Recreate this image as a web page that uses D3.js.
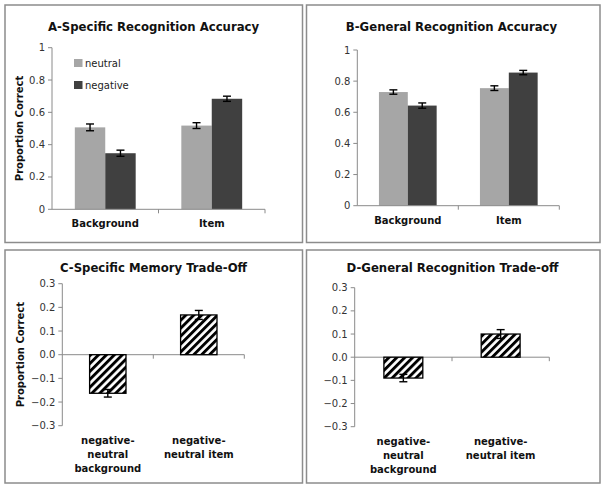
<!DOCTYPE html>
<html>
<head>
<meta charset="utf-8">
<script src="https://cdn.jsdelivr.net/npm/d3@7"></script>
<style>
  body { margin: 0; background: #fff; }
  svg { display: block; font-family: "DejaVu Sans", Verdana, sans-serif; }
</style>
</head>
<body>
<div id="chart"></div>
<script>
// Data
const groups = ["Background", "Item"];
const series = ["neutral", "negative"];

const specNeutral = [0.507, 0.518];
const specNegative = [0.347, 0.684];
const specNeutralErr = [0.021, 0.018];
const specNegativeErr = [0.019, 0.016];

const genNeutral = [0.730, 0.755];
const genNegative = [0.643, 0.855];
const genNeutralErr = [0.014, 0.015];
const genNegativeErr = [0.017, 0.014];

const diffLabels = [["negative-", "neutral", "background"], ["negative-", "neutral item"]];
const specDiff = [-0.163, 0.168];
const specDiffErr = [0.016, 0.019];
const genDiff = [-0.090, 0.100];
const genDiffErr = [0.016, 0.019];

const accTicks = [0, 0.2, 0.4, 0.6, 0.8, 1];
const diffTicks = [-0.3, -0.2, -0.1, 0, 0.1, 0.2, 0.3];

const colors = { neutral: "#a6a6a6", negative: "#404040" };
const axisColor = "#8a8a8a";

const svg = d3.select("#chart")
  .append("svg")
  .attr("width", 604)
  .attr("height", 488);

// hatch for the difference bars
svg.append("defs").append("pattern")
  .attr("id", "hatch")
  .attr("patternUnits", "userSpaceOnUse")
  .attr("width", 5.6)
  .attr("height", 5.6)
  .attr("patternTransform", "rotate(45)")
  .call(p => {
    p.append("rect").attr("width", 5.6).attr("height", 5.6).attr("fill", "#fff");
    p.append("rect").attr("width", 2.9).attr("height", 5.6).attr("fill", "#000");
  });

// panel frames
const frames = [[5, 5, 302.5, 242.5], [306.5, 5, 600, 242.5], [5, 250, 302.5, 483], [306.5, 250, 600, 483]];
svg.selectAll("rect.frame")
  .data(frames)
  .enter().append("rect")
  .attr("class", "frame")
  .attr("x", d => d[0])
  .attr("y", d => d[1])
  .attr("width", d => d[2] - d[0])
  .attr("height", d => d[3] - d[1])
  .attr("fill", "none")
  .attr("stroke", "#8c8c8c")
  .attr("stroke-width", 1.5);

function yAxis(g, y, x0, fmt, ticks) {
  g.append("line")
    .attr("x1", x0).attr("x2", x0)
    .attr("y1", y(ticks[0])).attr("y2", y(ticks[ticks.length - 1]))
    .attr("stroke", axisColor);
  g.selectAll("line.tick")
    .data(ticks)
    .enter().append("line")
    .attr("class", "tick")
    .attr("x1", x0 - 4).attr("x2", x0)
    .attr("y1", d => y(d)).attr("y2", d => y(d))
    .attr("stroke", axisColor);
  g.selectAll("text.tick")
    .data(ticks)
    .enter().append("text")
    .attr("class", "tick")
    .attr("x", x0 - 7)
    .attr("y", d => y(d) + 3.5)
    .attr("text-anchor", "end")
    .style("font-size", "10px")
    .attr("fill", "#333")
    .text(fmt);
}

function xBaseline(g, x, yPos) {
  const [a, b] = x.range();
  g.append("line")
    .attr("x1", a).attr("x2", b)
    .attr("y1", yPos).attr("y2", yPos)
    .attr("stroke", axisColor);
  const edges = x.domain().map(d => x(d)).concat([b]).slice(1);
  g.selectAll("line.xtick")
    .data(edges)
    .enter().append("line")
    .attr("class", "xtick")
    .attr("x1", d => d).attr("x2", d => d)
    .attr("y1", yPos).attr("y2", yPos + 4)
    .attr("stroke", axisColor);
}

function title(g, x, y, txt) {
  g.append("text")
    .attr("x", x).attr("y", y)
    .attr("text-anchor", "middle")
    .style("font-size", "11.7px")
    .style("font-weight", "bold")
    .attr("fill", "#111")
    .text(txt);
}

function yTitle(g, x, y, txt) {
  g.append("text")
    .attr("transform", "translate(" + x + "," + y + ") rotate(-90)")
    .attr("text-anchor", "middle")
    .style("font-size", "10px")
    .style("font-weight", "bold")
    .attr("fill", "#111")
    .text(txt);
}

function errorBars(g, data, yScale) {
  const eb = g.selectAll("g.err")
    .data(data)
    .enter().append("g")
    .attr("class", "err")
    .attr("stroke", "#000")
    .attr("stroke-width", 1.4);
  eb.append("line")
    .attr("x1", d => d.cx).attr("x2", d => d.cx)
    .attr("y1", d => yScale(d.v - d.e)).attr("y2", d => yScale(d.v + d.e));
  eb.append("line")
    .attr("x1", d => d.cx - 4).attr("x2", d => d.cx + 4)
    .attr("y1", d => yScale(d.v - d.e)).attr("y2", d => yScale(d.v - d.e));
  eb.append("line")
    .attr("x1", d => d.cx - 4).attr("x2", d => d.cx + 4)
    .attr("y1", d => yScale(d.v + d.e)).attr("y2", d => yScale(d.v + d.e));
}

// Panels A and B: grouped bars
function accuracyPanel(opt) {
  const g = svg.append("g");
  const x = d3.scaleBand().domain(groups).range(opt.xr).padding(0);
  const y = d3.scaleLinear().domain([0, 1]).range(opt.yr);
  const bw = x.bandwidth() / 3.5;
  const xs = d3.scaleBand().domain(series).range([0, 2 * bw]);

  const vals = { neutral: opt.neutral, negative: opt.negative };
  const errs = { neutral: opt.neutralErr, negative: opt.negativeErr };
  const rows = [];
  groups.forEach((grp, i) => {
    series.forEach(s => {
      const x0 = x(grp) + (x.bandwidth() - 2 * bw) / 2 + xs(s);
      rows.push({ s: s, x: x0, cx: x0 + bw / 2, v: vals[s][i], e: errs[s][i] });
    });
  });

  g.selectAll("rect.bar")
    .data(rows)
    .enter().append("rect")
    .attr("class", "bar")
    .attr("x", d => d.x)
    .attr("width", bw)
    .attr("y", d => y(d.v))
    .attr("height", d => y(0) - y(d.v))
    .attr("fill", d => colors[d.s]);

  errorBars(g, rows, y);
  yAxis(g, y, opt.xr[0], d => d3.format("~g")(d), accTicks);
  xBaseline(g, x, y(0));

  g.selectAll("text.cat")
    .data(groups)
    .enter().append("text")
    .attr("class", "cat")
    .attr("x", d => x(d) + x.bandwidth() / 2)
    .attr("y", opt.yr[0] + 18)
    .attr("text-anchor", "middle")
    .style("font-size", "10px")
    .style("font-weight", "bold")
    .attr("fill", "#111")
    .text(d => d);

  title(g, opt.titleX, 30.5, opt.title);
  if (opt.yLabel) yTitle(g, 22.5, (opt.yr[0] + opt.yr[1]) / 2, opt.yLabel);

  if (opt.legend) {
    const lg = g.append("g").attr("transform", "translate(74,59)");
    const items = lg.selectAll("g")
      .data(series)
      .enter().append("g")
      .attr("transform", (d, i) => "translate(0," + i * 22 + ")");
    items.append("rect")
      .attr("width", 8.5).attr("height", 8)
      .attr("fill", d => colors[d]);
    items.append("text")
      .attr("x", 11).attr("y", 8)
      .style("font-size", "10px")
      .attr("fill", "#222")
      .text(d => d);
  }
}

// Panels C and D: hatched difference bars
function diffPanel(opt) {
  const g = svg.append("g");
  const cats = diffLabels.map(d => d.join(" "));
  const x = d3.scaleBand().domain(cats).range(opt.xr).padding(0);
  const y = d3.scaleLinear().domain([-0.3, 0.3]).range(opt.yr);
  const bw = x.bandwidth() / 2.5;

  const rows = cats.map((c, i) => {
    const x0 = x(c) + (x.bandwidth() - bw) / 2;
    return { x: x0, cx: x0 + bw / 2, v: opt.values[i], e: opt.errs[i] };
  });

  yAxis(g, y, opt.xr[0], d3.format(".1f"), diffTicks);
  xBaseline(g, x, y(0));

  g.selectAll("rect.bar")
    .data(rows)
    .enter().append("rect")
    .attr("class", "bar")
    .attr("x", d => d.x)
    .attr("width", bw)
    .attr("y", d => y(Math.max(0, d.v)))
    .attr("height", d => Math.abs(y(d.v) - y(0)))
    .attr("fill", "url(#hatch)")
    .attr("stroke", "#000")
    .attr("stroke-width", 1.3);

  errorBars(g, rows, y);

  const labels = g.selectAll("text.cat")
    .data(diffLabels)
    .enter().append("text")
    .attr("class", "cat")
    .attr("text-anchor", "middle")
    .style("font-size", "10px")
    .style("font-weight", "bold")
    .attr("fill", "#111");
  labels.selectAll("tspan")
    .data((d, i) => d.map(t => ({ t: t, cx: x(cats[i]) + x.bandwidth() / 2 })))
    .enter().append("tspan")
    .attr("x", d => d.cx)
    .attr("y", (d, i) => opt.yr[0] + 18 + i * 14)
    .text(d => d.t);

  title(g, opt.titleX, 272, opt.title);
  if (opt.yLabel) yTitle(g, 24, (opt.yr[0] + opt.yr[1]) / 2, opt.yLabel);
}

accuracyPanel({
  title: "A-Specific Recognition Accuracy", titleX: 153.5,
  xr: [52, 265], yr: [209.3, 47.7],
  neutral: specNeutral, negative: specNegative,
  neutralErr: specNeutralErr, negativeErr: specNegativeErr,
  yLabel: "Proportion Correct", legend: true
});

accuracyPanel({
  title: "B-General Recognition Accuracy", titleX: 451.5,
  xr: [357.3, 559.3], yr: [205.7, 50],
  neutral: genNeutral, negative: genNegative,
  neutralErr: genNeutralErr, negativeErr: genNegativeErr
});

diffPanel({
  title: "C-Specific Memory Trade-Off", titleX: 153.5,
  xr: [62.3, 244.3], yr: [425.7, 283.7],
  values: specDiff, errs: specDiffErr,
  yLabel: "Proportion Correct"
});

diffPanel({
  title: "D-General Recognition Trade-off", titleX: 452.5,
  xr: [354.7, 549.3], yr: [426.7, 287.7],
  values: genDiff, errs: genDiffErr
});
</script>
</body>
</html>
